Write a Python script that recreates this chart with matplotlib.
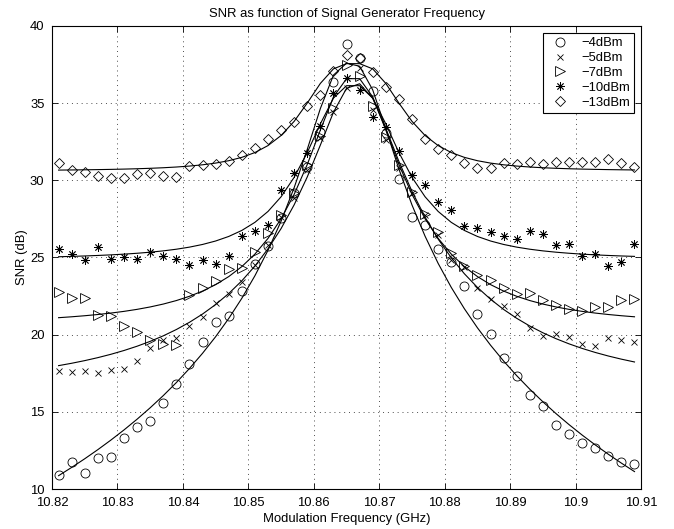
import numpy as np
import matplotlib
matplotlib.use('Agg')
import matplotlib.pyplot as plt

plt.rcParams['font.family'] = ['Liberation Sans', 'DejaVu Sans']
plt.rcParams['font.size'] = 9.4

# modulation frequency (GHz), one sample every 2 MHz
freq = [10.821, 10.823, 10.825, 10.827, 10.829, 10.831, 10.833, 10.835, 10.837, 10.839,
        10.841, 10.843, 10.845, 10.847, 10.849, 10.851, 10.853, 10.855, 10.857, 10.859,
        10.861, 10.863, 10.865, 10.867, 10.869, 10.871, 10.873, 10.875, 10.877, 10.879,
        10.881, 10.883, 10.885, 10.887, 10.889, 10.891, 10.893, 10.895, 10.897, 10.899,
        10.901, 10.903, 10.905, 10.907, 10.909]

snr_4 = [10.91, 11.77, 11.06, 11.99, 12.07, 13.28, 14.04, 14.43, 15.59, 16.82,
         18.10, 19.55, 20.84, 21.21, 22.85, 24.58, 25.76, 27.54, 29.16, 30.89,
         33.10, 36.37, 38.80, 37.91, 35.81, 33.07, 30.07, 27.62, 27.09, 25.54,
         24.69, 23.15, 21.34, 20.02, 18.47, 17.34, 16.09, 15.40, 14.15, 13.54,
         12.96, 12.64, 12.14, 11.73, 11.60]
snr_5 = [17.66, 17.60, 17.66, 17.53, 17.69, 17.77, 18.29, 19.16, 19.65, 19.76,
         20.56, 21.16, 22.03, 22.61, 23.43, 24.51, 25.81, 27.62, 28.85, 30.67,
         32.74, 34.43, 35.98, 37.30, 34.56, 32.61, 30.80, 29.18, 27.75, 26.46,
         24.84, 24.41, 23.00, 22.29, 21.86, 21.32, 20.45, 19.91, 20.02, 19.87,
         19.38, 19.27, 19.81, 19.65, 19.54]
snr_7 = [22.78, 22.36, 22.36, 21.27, 21.24, 20.58, 20.19, 19.65, 19.38, 19.33,
         22.57, 23.00, 23.48, 24.25, 24.32, 25.38, 26.57, 27.75, 29.16, 30.99,
         32.87, 34.67, 37.47, 36.77, 34.82, 32.83, 30.99, 29.26, 27.84, 26.62,
         25.29, 24.47, 23.87, 23.54, 23.00, 22.63, 22.68, 22.25, 21.92, 21.66,
         21.53, 21.77, 21.77, 22.25, 22.29]
snr_10 = [25.53, 25.21, 24.84, 25.65, 24.90, 25.01, 24.88, 25.34, 25.12, 24.90,
          24.51, 24.84, 24.58, 25.12, 26.39, 26.70, 27.11, 29.37, 30.49, 31.79,
          33.52, 35.64, 36.64, 35.87, 34.08, 33.47, 31.90, 30.35, 29.70, 28.58,
          28.08, 27.06, 26.93, 26.67, 26.39, 26.18, 26.74, 26.50, 25.81, 25.85,
          25.10, 25.21, 24.47, 24.73, 25.85]
snr_13 = [31.12, 30.67, 30.51, 30.31, 30.18, 30.17, 30.41, 30.45, 30.28, 30.23,
          30.95, 30.99, 31.04, 31.25, 31.67, 32.07, 32.65, 33.24, 33.81, 34.82,
          35.50, 37.06, 38.12, 37.93, 36.99, 36.03, 35.27, 33.96, 32.68, 32.06,
          31.64, 31.10, 30.82, 30.78, 31.10, 31.04, 31.21, 31.04, 31.21, 31.21,
          31.21, 31.21, 31.36, 31.10, 30.88]

labels = ['\u22124dBm', '\u22125dBm', '\u22127dBm', '\u221210dBm', '\u221213dBm']
markers = ['o', 'x', '>', (8, 2, 0), 'D']
msizes = [6.5, 4.5, 6.5, 6, 5.6]

x_ticks = [10.82, 10.83, 10.84, 10.85, 10.86, 10.87, 10.88, 10.89, 10.9, 10.91]
y_ticks = [10, 15, 20, 25, 30, 35, 40]


def resonance_fit(f, snr):
    # least squares in dB of 10*log10(B + A / (1 + |(f-f0)/g|^p))
    f = np.asarray(f)
    snr = np.asarray(snr)
    g = np.linspace(0.002, 0.03, 45)[:, None, None, None]
    p = np.linspace(1.2, 4.4, 33)[None, :, None, None]
    r = np.logspace(-5, 0.3, 54)[None, None, :, None]
    best_err, best = np.inf, None
    for f0 in np.arange(10.8620, 10.87005, 0.0005):
        s = 1 / (1 + np.abs((f - f0) / g) ** p)
        shape_db = 10 * np.log10(r + s)
        off = (snr - shape_db).mean(-1, keepdims=True)
        model = shape_db + off
        err = ((model - snr) ** 2).sum(-1)
        i = np.unravel_index(np.argmin(err), err.shape)
        if err[i] < best_err:
            best_err, best = err[i], model[i]
    return best


fig = plt.figure(figsize=(6.74, 5.29), dpi=100)
ax = fig.add_axes([0.0772, 0.0756, 0.8739, 0.8753])

for snr, lab, m, ms in zip([snr_4, snr_5, snr_7, snr_10, snr_13], labels, markers, msizes):
    ax.plot(freq, snr, linestyle='none', marker=m, markersize=ms,
            markerfacecolor='none', markeredgecolor='k', markeredgewidth=0.6,
            color='k', label=lab)

for snr in [snr_4, snr_5, snr_7, snr_10, snr_13]:
    ax.plot(freq, resonance_fit(freq, snr), color='k', linewidth=0.8)

ax.set_xlim(10.82, 10.91)
ax.set_ylim(10, 40)
ax.set_xticks(x_ticks)
ax.set_xticklabels(['%g' % t for t in x_ticks])
ax.set_yticks(y_ticks)
ax.grid(True, linestyle=(0, (1, 4)), linewidth=0.7, color='0.3')
ax.tick_params(direction='in', top=True, right=True, length=4, width=0.6, labelsize=9.4, pad=5.5)
for sp in ax.spines.values():
    sp.set_linewidth(0.8)

ax.set_title('SNR as function of Signal Generator Frequency', fontsize=9.4, pad=6.5)
ax.set_xlabel('Modulation Frequency (GHz)', fontsize=9.4, labelpad=3)
ax.set_ylabel('SNR (dB)', fontsize=9.4, labelpad=1.5)

leg = ax.legend(loc='upper right', fontsize=9.4, frameon=True, fancybox=False,
                edgecolor='k', framealpha=1, handlelength=2.1, handletextpad=0.55,
                labelspacing=0.21, borderpad=0.3, borderaxespad=0.55)
leg.get_frame().set_linewidth(0.8)

fig.savefig('out.png', dpi=100)
